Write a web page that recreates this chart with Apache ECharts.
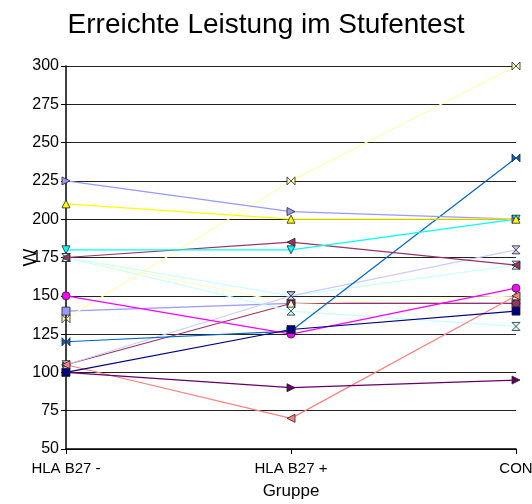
<!DOCTYPE html>
<html>
<head>
<meta charset="utf-8">
<script src="https://cdn.jsdelivr.net/npm/echarts@6/dist/echarts.min.js"></script>
<style>
  html, body { margin: 0; padding: 0; background: #fff; }
  #chart { width: 532px; height: 504px; }
</style>
</head>
<body>
<div id="chart"></div>
<script>
// Groups on the x axis
const groups = ['HLA B27 -', 'HLA B27 +', 'CON'];

// Watt reached per subject in each group
const s01 = [100, 128, 140];
const s02 = [150, 125, 155];
const s03 = [210, 200, 200];
const s04 = [180, 180, 200];
const s05 = [175, 185, 170];
const s06 = [100, 90, 95];
const s07 = [225, 205, 200];
const s08 = [105, 70, 150];
const s09 = [120, 127, 240];
const s10 = [135, 225, 300];
const s11 = [105, 150, 180];
const s12 = [175, 140, 130];
const s13 = [175, 150, 170];
const s14 = [140, 145, 145];
const s15 = [105, 145, 145];
const s16 = [175, 145, 150];

const yTicks = { min: 50, max: 300, interval: 25 };

const hourglass = 'path://M0,0 L10,0 L0,10 L10,10 Z';

const seriesDefs = [
  { data: s14, color: '#9999ff', symbol: 'rect', rot: 0 },
  { data: s15, color: '#993366', symbol: 'circle', rot: 0 },
  { data: s16, color: '#ffffcc', symbol: 'triangle', rot: 0 },
  { data: s13, color: '#ccffff', symbol: hourglass, rot: 0 },
  { data: s12, color: '#ccffff', symbol: hourglass, rot: 0 },
  { data: s11, color: '#ccccff', symbol: hourglass, rot: 0 },
  { data: s10, color: '#ffffb3', symbol: hourglass, rot: 90 },
  { data: s09, color: '#0066cc', symbol: hourglass, rot: 90 },
  { data: s08, color: '#ff8080', symbol: 'triangle', rot: 90 },
  { data: s07, color: '#9999ff', symbol: 'triangle', rot: -90 },
  { data: s06, color: '#660066', symbol: 'triangle', rot: -90 },
  { data: s05, color: '#993366', symbol: 'triangle', rot: 90 },
  { data: s04, color: '#00ffff', symbol: 'triangle', rot: 180 },
  { data: s03, color: '#ffff00', symbol: 'triangle', rot: 0 },
  { data: s02, color: '#ff00ff', symbol: 'circle', rot: 0 },
  { data: s01, color: '#000080', symbol: 'rect', rot: 0 }
];

const chart = echarts.init(document.getElementById('chart'), null, { renderer: 'canvas' });

chart.setOption({
  animation: false,
  backgroundColor: '#fff',
  textStyle: { fontFamily: 'Liberation Sans, Arial, sans-serif', color: '#000' },
  title: {
    text: 'Erreichte Leistung im Stufentest',
    left: 'center',
    top: 6,
    textStyle: { fontSize: 28, fontWeight: 'normal', color: '#000', fontFamily: 'Liberation Sans, Arial, sans-serif' }
  },
  grid: { left: 66, right: 16, top: 66, bottom: 55, containLabel: false, outerBoundsMode: 'none' },
  xAxis: {
    type: 'category',
    data: groups,
    boundaryGap: false,
    name: 'Gruppe',
    nameLocation: 'middle',
    nameGap: 34,
    nameTextStyle: { fontSize: 17, color: '#000' },
    axisLine: { lineStyle: { color: '#000', width: 1.5 } },
    axisTick: { show: true, length: 5, lineStyle: { color: '#000' } },
    axisLabel: { fontSize: 15, color: '#000', margin: 12, hideOverlap: false },
    splitLine: { show: false }
  },
  yAxis: {
    type: 'value',
    min: yTicks.min,
    max: yTicks.max,
    interval: yTicks.interval,
    name: 'W',
    nameLocation: 'middle',
    nameGap: 26,
    nameMoveOverlap: false,
    nameRotate: 90,
    nameTextStyle: { fontSize: 19, color: '#000' },
    axisLine: { show: true, lineStyle: { color: '#000', width: 1.5 } },
    axisTick: { show: true, length: 5, lineStyle: { color: '#000' } },
    axisLabel: { fontSize: 16, color: '#000', margin: 7 },
    splitLine: { show: true, lineStyle: { color: '#222', width: 1 } }
  },
  series: seriesDefs.map(d => ({
    type: 'line',
    data: d.data,
    symbol: d.symbol,
    symbolRotate: d.rot,
    symbolSize: 8,
    showAllSymbol: true,
    lineStyle: { color: d.color, width: 1.2 },
    itemStyle: { color: d.color, borderColor: '#222', borderWidth: 0.8 },
    emphasis: { disabled: true }
  }))
});
</script>
</body>
</html>
